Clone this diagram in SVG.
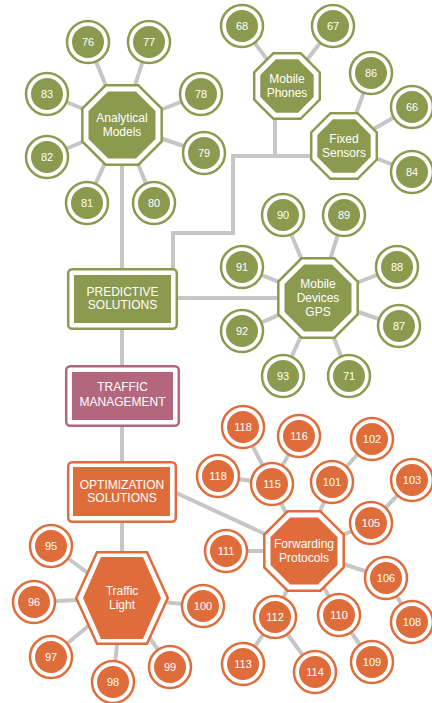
<svg xmlns="http://www.w3.org/2000/svg" xmlns:xlink="http://www.w3.org/1999/xlink" width="432" height="703" viewBox="0 0 432 703">
<style>
.link{stroke:#C6C6C6;stroke-width:4;fill:none}
.gr{fill:#fff;stroke:#8C9A4F;stroke-width:2.5}
.gf{fill:#8C9A4F}
.or{fill:#fff;stroke:#DF6D3B;stroke-width:2.5}
.of{fill:#DF6D3B}
.pr{fill:#fff;stroke:#B5667F;stroke-width:2.5}
.pf{fill:#B5667F}
text{font-family:"Liberation Sans",Arial,sans-serif;fill:#fff;text-anchor:middle}
.n{font-size:11px}
.t{font-size:12px}
</style>
<defs>
<polygon id="obo" points="16.44,-39.7 39.7,-16.44 39.7,16.44 16.44,39.7 -16.44,39.7 -39.7,16.44 -39.7,-16.44 -16.44,-39.7"/>
<polygon id="obi" points="13.88,-33.5 33.5,-13.88 33.5,13.88 13.88,33.5 -13.88,33.5 -33.5,13.88 -33.5,-13.88 -13.88,-33.5"/>
<polygon id="oso" points="13.59,-32.8 32.8,-13.59 32.8,13.59 13.59,32.8 -13.59,32.8 -32.8,13.59 -32.8,-13.59 -13.59,-32.8"/>
<polygon id="osi" points="11.06,-26.7 26.7,-11.06 26.7,11.06 11.06,26.7 -11.06,26.7 -26.7,11.06 -26.7,-11.06 -11.06,-26.7"/>
<polygon id="hxo" points="-25,-45.8 25,-45.8 45.8,0 25,45.8 -25,45.8 -45.8,0"/>
<polygon id="hxi" points="-21,-41 21,-41 39,0 21,41 -21,41 -39,0"/>
</defs>
<g id="connectors" class="link">
<line x1="122" y1="125" x2="88" y2="42"/>
<line x1="122" y1="125" x2="149" y2="42"/>
<line x1="122" y1="125" x2="47" y2="94"/>
<line x1="122" y1="125" x2="201" y2="94"/>
<line x1="122" y1="125" x2="47" y2="157"/>
<line x1="122" y1="125" x2="204" y2="153"/>
<line x1="122" y1="125" x2="87" y2="203"/>
<line x1="122" y1="125" x2="154" y2="203"/>
<line x1="122" y1="125" x2="122" y2="270"/>
<line x1="287" y1="86" x2="242" y2="26"/>
<line x1="287" y1="86" x2="333" y2="26"/>
<line x1="344" y1="146" x2="371" y2="73"/>
<line x1="344" y1="146" x2="412" y2="107"/>
<line x1="344" y1="146" x2="412" y2="172"/>
<polyline points="275,110 275,156"/>
<polyline points="330,156 233,156 233,233 173,233 173,270"/>
<line x1="318" y1="298" x2="283" y2="215"/>
<line x1="318" y1="298" x2="344" y2="215"/>
<line x1="318" y1="298" x2="242" y2="267"/>
<line x1="318" y1="298" x2="397" y2="267"/>
<line x1="318" y1="298" x2="242" y2="331"/>
<line x1="318" y1="298" x2="399" y2="326"/>
<line x1="318" y1="298" x2="283" y2="376"/>
<line x1="318" y1="298" x2="349" y2="376"/>
<line x1="176" y1="298" x2="318" y2="298"/>
<line x1="122" y1="328" x2="122" y2="367"/>
<line x1="122" y1="425" x2="122" y2="463"/>
<line x1="122" y1="520" x2="122" y2="598"/>
<line x1="170" y1="490" x2="304" y2="552"/>
<line x1="122" y1="598" x2="51" y2="546"/>
<line x1="122" y1="598" x2="34" y2="602"/>
<line x1="122" y1="598" x2="51" y2="657"/>
<line x1="122" y1="598" x2="113" y2="682"/>
<line x1="122" y1="598" x2="170" y2="667"/>
<line x1="122" y1="598" x2="203" y2="606"/>
<line x1="304" y1="551" x2="272" y2="484"/>
<line x1="304" y1="551" x2="332" y2="482"/>
<line x1="304" y1="551" x2="371" y2="523"/>
<line x1="304" y1="551" x2="226" y2="551"/>
<line x1="304" y1="551" x2="386" y2="578"/>
<line x1="304" y1="551" x2="275" y2="617"/>
<line x1="304" y1="551" x2="339" y2="615"/>
<line x1="272" y1="484" x2="243" y2="427"/>
<line x1="272" y1="484" x2="299" y2="436"/>
<line x1="272" y1="484" x2="218" y2="476"/>
<line x1="332" y1="482" x2="372" y2="439"/>
<line x1="371" y1="523" x2="412" y2="480"/>
<line x1="386" y1="578" x2="412" y2="622"/>
<line x1="275" y1="617" x2="243" y2="664"/>
<line x1="275" y1="617" x2="315" y2="672"/>
<line x1="339" y1="615" x2="372" y2="662"/>
</g>
<!-- Green cluster -->
<g id="analytical-models"><use href="#obo" x="122" y="125" class="gr"/><use href="#obi" x="122" y="125" class="gf"/><text class="t" x="122" y="122">Analytical</text><text class="t" x="122" y="136">Models</text></g>
<g id="n76"><circle cx="88" cy="42" r="21" class="gr"/><circle cx="88" cy="42" r="16" class="gf"/><text class="n" x="88" y="46">76</text></g>
<g id="n77"><circle cx="149" cy="42" r="21" class="gr"/><circle cx="149" cy="42" r="16" class="gf"/><text class="n" x="149" y="46">77</text></g>
<g id="n83"><circle cx="47" cy="94" r="21" class="gr"/><circle cx="47" cy="94" r="16" class="gf"/><text class="n" x="47" y="98">83</text></g>
<g id="n78"><circle cx="201" cy="94" r="21" class="gr"/><circle cx="201" cy="94" r="16" class="gf"/><text class="n" x="201" y="98">78</text></g>
<g id="n82"><circle cx="47" cy="157" r="21" class="gr"/><circle cx="47" cy="157" r="16" class="gf"/><text class="n" x="47" y="161">82</text></g>
<g id="n79"><circle cx="204" cy="153" r="21" class="gr"/><circle cx="204" cy="153" r="16" class="gf"/><text class="n" x="204" y="157">79</text></g>
<g id="n81"><circle cx="87" cy="203" r="21" class="gr"/><circle cx="87" cy="203" r="16" class="gf"/><text class="n" x="87" y="207">81</text></g>
<g id="n80"><circle cx="154" cy="203" r="21" class="gr"/><circle cx="154" cy="203" r="16" class="gf"/><text class="n" x="154" y="207">80</text></g>
<g id="mobile-phones"><use href="#oso" x="287" y="86" class="gr"/><use href="#osi" x="287" y="86" class="gf"/><text class="t" x="287" y="83">Mobile</text><text class="t" x="287" y="97">Phones</text></g>
<g id="n68"><circle cx="242" cy="26" r="21" class="gr"/><circle cx="242" cy="26" r="16" class="gf"/><text class="n" x="242" y="30">68</text></g>
<g id="n67"><circle cx="333" cy="26" r="21" class="gr"/><circle cx="333" cy="26" r="16" class="gf"/><text class="n" x="333" y="30">67</text></g>
<g id="fixed-sensors"><use href="#oso" x="344" y="146" class="gr"/><use href="#osi" x="344" y="146" class="gf"/><text class="t" x="344" y="143">Fixed</text><text class="t" x="344" y="157">Sensors</text></g>
<g id="n86"><circle cx="371" cy="73" r="21" class="gr"/><circle cx="371" cy="73" r="16" class="gf"/><text class="n" x="371" y="77">86</text></g>
<g id="n66"><circle cx="412" cy="107" r="21" class="gr"/><circle cx="412" cy="107" r="16" class="gf"/><text class="n" x="412" y="111">66</text></g>
<g id="n84"><circle cx="412" cy="172" r="21" class="gr"/><circle cx="412" cy="172" r="16" class="gf"/><text class="n" x="412" y="176">84</text></g>
<g id="mobile-devices-gps"><use href="#obo" x="318" y="298" class="gr"/><use href="#obi" x="318" y="298" class="gf"/><text class="t" x="318" y="288">Mobile</text><text class="t" x="318" y="302">Devices</text><text class="t" x="318" y="316">GPS</text></g>
<g id="n90"><circle cx="283" cy="215" r="21" class="gr"/><circle cx="283" cy="215" r="16" class="gf"/><text class="n" x="283" y="219">90</text></g>
<g id="n89"><circle cx="344" cy="215" r="21" class="gr"/><circle cx="344" cy="215" r="16" class="gf"/><text class="n" x="344" y="219">89</text></g>
<g id="n91"><circle cx="242" cy="267" r="21" class="gr"/><circle cx="242" cy="267" r="16" class="gf"/><text class="n" x="242" y="271">91</text></g>
<g id="n88"><circle cx="397" cy="267" r="21" class="gr"/><circle cx="397" cy="267" r="16" class="gf"/><text class="n" x="397" y="271">88</text></g>
<g id="n92"><circle cx="242" cy="331" r="21" class="gr"/><circle cx="242" cy="331" r="16" class="gf"/><text class="n" x="242" y="335">92</text></g>
<g id="n87"><circle cx="399" cy="326" r="21" class="gr"/><circle cx="399" cy="326" r="16" class="gf"/><text class="n" x="399" y="330">87</text></g>
<g id="n93"><circle cx="283" cy="376" r="21" class="gr"/><circle cx="283" cy="376" r="16" class="gf"/><text class="n" x="283" y="380">93</text></g>
<g id="n71"><circle cx="349" cy="376" r="21" class="gr"/><circle cx="349" cy="376" r="16" class="gf"/><text class="n" x="349" y="380">71</text></g>
<g id="predictive-solutions"><rect x="68.2" y="269.2" width="108.6" height="59.6" rx="4" class="gr"/><rect x="74" y="275" width="97" height="48" class="gf"/><text class="t" x="122.5" y="296">PREDICTIVE</text><text class="t" x="122.5" y="309">SOLUTIONS</text></g>
<g id="traffic-management"><rect x="66.2" y="366.2" width="112.6" height="59.6" rx="4" class="pr"/><rect x="72" y="372" width="101" height="48" class="pf"/><text class="t" x="122.5" y="391">TRAFFIC</text><text class="t" x="122.5" y="406">MANAGEMENT</text></g>
<g id="optimization-solutions"><rect x="68.2" y="462.2" width="107.6" height="59.6" rx="4" class="or"/><rect x="73" y="467" width="97" height="49" class="of"/><text class="t" x="122" y="489">OPTIMIZATION</text><text class="t" x="122" y="502">SOLUTIONS</text></g>
<g id="traffic-light"><use href="#hxo" x="122" y="598" class="or"/><use href="#hxi" x="122" y="598" class="of"/><text class="t" x="122" y="595">Traffic</text><text class="t" x="122" y="609">Light</text></g>
<g id="n95"><circle cx="51" cy="546" r="21" class="or"/><circle cx="51" cy="546" r="16" class="of"/><text class="n" x="51" y="550">95</text></g>
<g id="n96"><circle cx="34" cy="602" r="21" class="or"/><circle cx="34" cy="602" r="16" class="of"/><text class="n" x="34" y="606">96</text></g>
<g id="n97"><circle cx="51" cy="657" r="21" class="or"/><circle cx="51" cy="657" r="16" class="of"/><text class="n" x="51" y="661">97</text></g>
<g id="n98"><circle cx="113" cy="682" r="21" class="or"/><circle cx="113" cy="682" r="16" class="of"/><text class="n" x="113" y="686">98</text></g>
<g id="n99"><circle cx="170" cy="667" r="21" class="or"/><circle cx="170" cy="667" r="16" class="of"/><text class="n" x="170" y="671">99</text></g>
<g id="n100"><circle cx="203" cy="606" r="21" class="or"/><circle cx="203" cy="606" r="16" class="of"/><text class="n" x="203" y="610">100</text></g>
<g id="forwarding-protocols"><use href="#obo" x="304" y="551" class="or"/><use href="#obi" x="304" y="551" class="of"/><text class="t" x="304" y="548">Forwarding</text><text class="t" x="304" y="562">Protocols</text></g>
<g id="n118a"><circle cx="243" cy="427" r="21" class="or"/><circle cx="243" cy="427" r="16" class="of"/><text class="n" x="243" y="431">118</text></g>
<g id="n116"><circle cx="299" cy="436" r="21" class="or"/><circle cx="299" cy="436" r="16" class="of"/><text class="n" x="299" y="440">116</text></g>
<g id="n118b"><circle cx="218" cy="476" r="21" class="or"/><circle cx="218" cy="476" r="16" class="of"/><text class="n" x="218" y="480">118</text></g>
<g id="n115"><circle cx="272" cy="484" r="21" class="or"/><circle cx="272" cy="484" r="16" class="of"/><text class="n" x="272" y="488">115</text></g>
<g id="n101"><circle cx="332" cy="482" r="21" class="or"/><circle cx="332" cy="482" r="16" class="of"/><text class="n" x="332" y="486">101</text></g>
<g id="n102"><circle cx="372" cy="439" r="21" class="or"/><circle cx="372" cy="439" r="16" class="of"/><text class="n" x="372" y="443">102</text></g>
<g id="n103"><circle cx="412" cy="480" r="21" class="or"/><circle cx="412" cy="480" r="16" class="of"/><text class="n" x="412" y="484">103</text></g>
<g id="n105"><circle cx="371" cy="523" r="21" class="or"/><circle cx="371" cy="523" r="16" class="of"/><text class="n" x="371" y="527">105</text></g>
<g id="n111"><circle cx="226" cy="551" r="21" class="or"/><circle cx="226" cy="551" r="16" class="of"/><text class="n" x="226" y="555">111</text></g>
<g id="n106"><circle cx="386" cy="578" r="21" class="or"/><circle cx="386" cy="578" r="16" class="of"/><text class="n" x="386" y="582">106</text></g>
<g id="n108"><circle cx="412" cy="622" r="21" class="or"/><circle cx="412" cy="622" r="16" class="of"/><text class="n" x="412" y="626">108</text></g>
<g id="n112"><circle cx="275" cy="617" r="21" class="or"/><circle cx="275" cy="617" r="16" class="of"/><text class="n" x="275" y="621">112</text></g>
<g id="n110"><circle cx="339" cy="615" r="21" class="or"/><circle cx="339" cy="615" r="16" class="of"/><text class="n" x="339" y="619">110</text></g>
<g id="n113"><circle cx="243" cy="664" r="21" class="or"/><circle cx="243" cy="664" r="16" class="of"/><text class="n" x="243" y="668">113</text></g>
<g id="n114"><circle cx="315" cy="672" r="21" class="or"/><circle cx="315" cy="672" r="16" class="of"/><text class="n" x="315" y="676">114</text></g>
<g id="n109"><circle cx="372" cy="662" r="21" class="or"/><circle cx="372" cy="662" r="16" class="of"/><text class="n" x="372" y="666">109</text></g>
</svg>
